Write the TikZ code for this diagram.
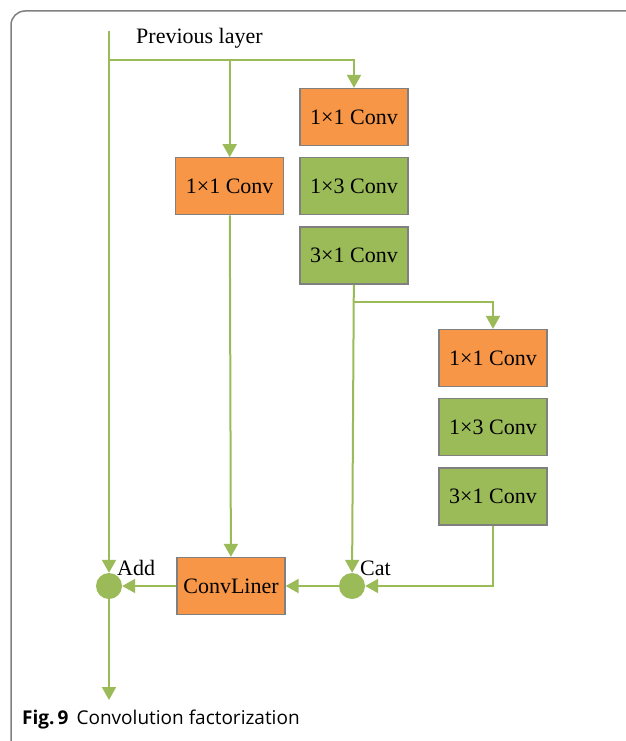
\documentclass[tikz,border=0pt]{standalone}
\usepackage{fontspec}
\setmainfont{Liberation Serif}
\newfontfamily\capfont{Open Sans}
\usetikzlibrary{calc}
\usetikzlibrary{positioning}
\usetikzlibrary{arrows.meta}
\definecolor{convorange}{HTML}{F79646}
\definecolor{convgreen}{HTML}{9BBB59}
\definecolor{flowgreen}{HTML}{9BBB59}
\definecolor{boxgray}{HTML}{808080}
\tikzset{convnode/.style={shape=rectangle, minimum width=108pt, minimum height=57pt, inner sep=0pt, draw=boxgray, line width=1.3pt, font=\fontsize{22}{26}\selectfont},
  onebyone/.style={convnode, fill=convorange},
  factnode/.style={convnode, fill=convgreen},
  joinnode/.style={shape=circle, minimum size=26pt, inner sep=0pt, fill=flowgreen},
  lbl/.style={inner sep=0pt, font=\fontsize{22}{26}\selectfont},
  flow/.style={draw=flowgreen, line width=2pt, -{Triangle[width=14pt,length=13pt]}}}

\begin{document}
\begin{tikzpicture}[x=1pt, y=-1pt]
    \useasboundingbox (0,0) rectangle (625,741);
    \draw[boxgray, line width=1.5pt, rounded corners=14pt] (11,745) -- (11,11) -- (630,11);

    % branch 1 and 2
    \node[onebyone] (a1) at (354,117) {1×1 Conv};
    \node[factnode, below=11pt of a1] (a2) {1×3 Conv};
    \node[factnode, below=11pt of a2] (a3) {3×1 Conv};
    \node[onebyone, left=15pt of a2] (m1) {1×1 Conv};

    % branch 3
    \node[onebyone] (b1) at (493,358) {1×1 Conv};
    \node[factnode, below=11pt of b1] (b2) {1×3 Conv};
    \node[factnode, below=11pt of b2] (b3) {3×1 Conv};

    % merge
    \node[onebyone] (cl) at (231,586) {ConvLiner};
    \node[joinnode] (add) at (109,586) {};
    \node[joinnode] (cat) at (352,586) {};
    \node[lbl, anchor=west] (addtext) at (117,568) {Add};
    \node[lbl, anchor=west] (cattext) at (360,568) {Cat};
    \node[lbl, anchor=west] (prev) at (136,38) {Previous layer};

    \coordinate (top) at (109,31);
    \coordinate (split) at (109,60);
    \coordinate[below=17pt of a3.south] (fork);
    \coordinate (out) at (109,700);

    \draw[flow] (top) -- (add);
    \draw[flow] (split) -| (a1);
    \draw[flow] (m1 |- split) -- (m1);
    \draw[flow] (m1) -- (cl);
    \draw[flow] (a3) -- (cat);
    \draw[flow] (fork) -| (b1);
    \draw[flow] (b3) |- (cat);
    \draw[flow] (cat) -- (cl);
    \draw[flow] (cl) -- (add);
    \draw[flow] (add) -- (out);

    \node[anchor=west, inner sep=0pt, font=\capfont\fontsize{19}{22}\selectfont] (caption) at (22,720) {{\bfseries Fig.\,9}\hspace{8pt}Convolution factorization};
  \end{tikzpicture}
\end{document}
